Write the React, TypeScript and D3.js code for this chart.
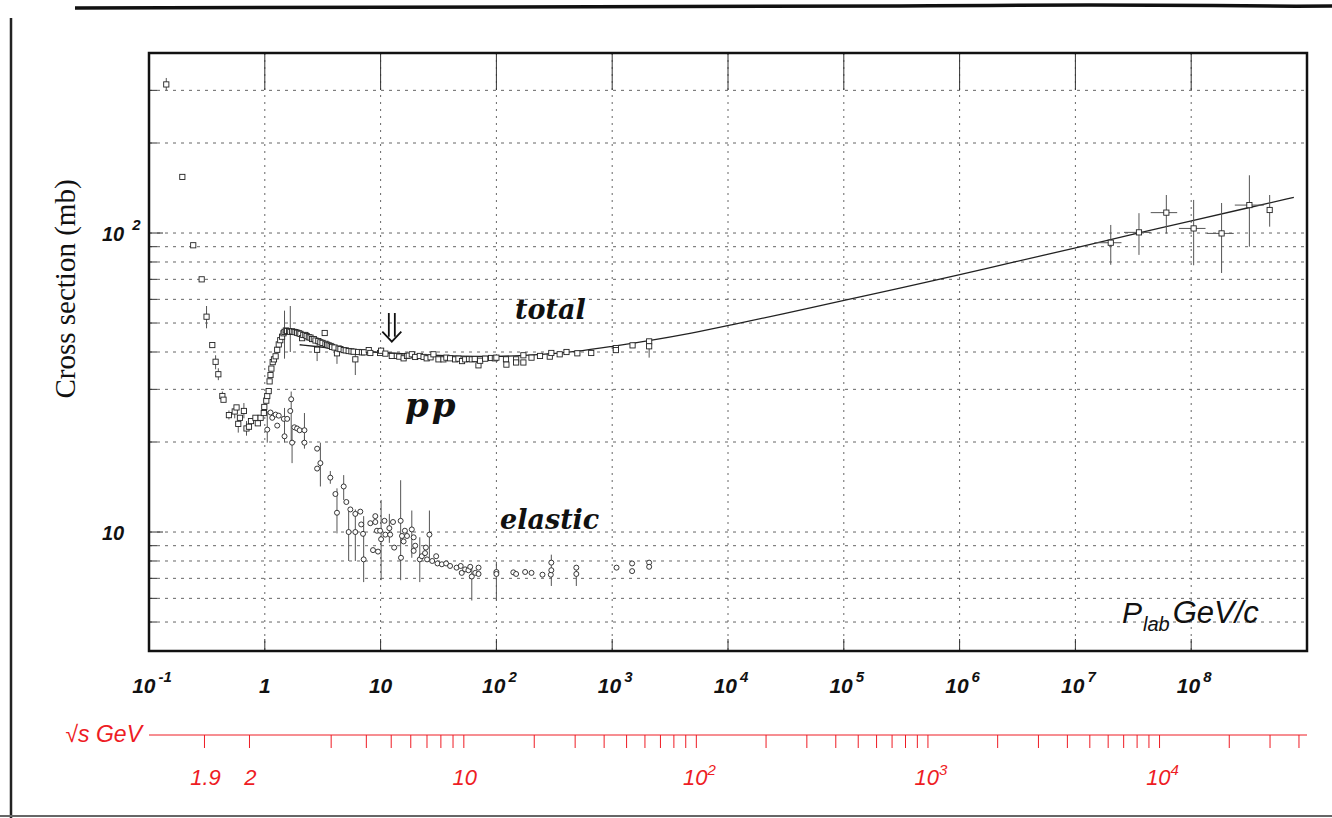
import React from 'react';
import * as d3 from 'd3';

// ---------------- data ----------------
const X_DOMAIN: [number, number] = [0.1, 1e9];
const Y_DOMAIN: [number, number] = [4, 400];

// total cross section (squares): [p_lab, sigma, sigmaLow, sigmaHigh]
const totalPoints: number[][] = [
  [0.141, 314, 300, 330], [0.194, 154], [0.241, 91], [0.285, 70], [0.314, 52.5, 48, 57],
  [0.352, 42.2], [0.376, 37.1, 35, 39], [0.397, 33.7, 32.2, 35.3], [0.43, 28.5, 27.5, 29.5],
  [0.44, 27.7], [0.49, 24.6, 23.8, 25.5], [0.55, 25.3, 24, 26.5], [0.57, 26.1],
  [0.59, 23.0, 21.5, 24.5], [0.61, 24.1], [0.66, 25.4, 24, 27], [0.695, 22.2, 21, 23.5],
  [0.73, 22.5], [0.76, 23.5], [0.83, 24.1], [0.87, 23.1], [0.92, 24.1], [0.98, 25.0],
  [0.99, 26.2], [1.03, 27.5], [1.05, 28.5], [1.08, 29.6], [1.10, 31.9], [1.12, 33.5],
  [1.14, 35.2], [1.17, 37.0], [1.2, 37.8], [1.24, 38.7], [1.28, 40.7], [1.32, 42.4],
  [1.36, 43.8], [1.41, 45.0], [1.45, 46.2], [1.48, 46.7, 38, 55], [1.52, 47.2], [1.56, 47.0],
  [1.62, 47.0], [1.66, 46.7, 40, 57], [1.72, 46.9], [1.78, 46.7], [1.84, 46.6], [1.90, 46.4],
  [1.97, 46.2], [2.03, 46.0], [2.10, 44.5], [2.15, 45.6], [2.24, 45.6], [2.3, 45.2],
  [2.40, 44.8], [2.48, 44.7], [2.56, 44.2], [2.65, 44.2], [2.74, 43.7], [2.83, 40.7, 37.3, 44.2],
  [2.9, 43.5], [3.02, 43.1], [3.15, 42.9], [3.29, 46.3], [3.34, 42.6], [3.45, 42.3],
  [3.56, 42.1], [3.7, 41.9], [3.81, 41.6], [4.0, 41.4], [4.2, 39.6, 36.5, 41], [4.34, 41.1],
  [4.5, 40.9], [4.80, 40.6], [5.0, 40.5], [5.3, 40.3], [5.6, 40.2], [5.85, 40.1],
  [6.05, 37.8, 33.5, 39.3], [6.4, 40.0], [6.9, 39.9], [7.2, 39.9], [7.9, 40.6], [8.15, 39.7],
  [9.9, 39.7], [10.1, 40.4], [11, 39.5], [12.5, 38.8], [13.8, 38.8], [14.5, 38.6],
  [15.8, 38.1], [16.9, 38.8], [17.5, 38.9], [18.6, 39.3], [19.9, 38.5], [21.8, 38.8],
  [23.5, 38.5], [25, 38.1], [27, 38.4], [28.6, 39.3], [31.6, 37.8], [34.9, 37.8], [37, 38.3],
  [39.8, 38.1], [44, 37.8], [47, 38.0], [50.5, 37.3], [53.8, 37.8], [58, 37.9], [61.3, 37.8],
  [65, 37.9], [70, 36.1], [72.4, 37.4], [80, 38.0], [90, 38.2], [97, 38.1], [100, 38.3],
  [121, 37.8], [122, 36.3], [148, 37.8], [148, 36.9], [171, 39.0], [171, 36.9], [201, 38.3],
  [238, 38.8], [289, 38.6], [298, 39.7], [352, 39.3], [403, 40.0], [500, 39.6], [659, 39.7],
  [1075, 41.2], [1075, 40.6], [1499, 42.1], [2085, 43.4], [2085, 41.8, 38.3, 43.5],
];

// elastic cross section (circles): [p_lab, sigma, sigmaLow, sigmaHigh]
const elasticPoints: number[][] = [
  [0.99, 25.3], [1.05, 22.0, 19.9, 25.3], [1.12, 25.1], [1.16, 24.1], [1.24, 24.7],
  [1.28, 22.7], [1.32, 24.5], [1.46, 23.9], [1.48, 20.9, 19.9, 26], [1.56, 23.9],
  [1.66, 25.4], [1.69, 27.8, 19.9, 29.5], [1.72, 19.9, 17, 22], [1.80, 22.4], [1.90, 22.2],
  [2.0, 21.9], [2.2, 21.9, 19.5, 25], [2.2, 19.9, 19, 21], [2.83, 19.0], [2.83, 16.3],
  [3.02, 17.0, 14.2, 19.9], [3.68, 15.2, 14.5, 16], [4.07, 13.4], [4.2, 11.6, 9.9, 14.0],
  [4.8, 14.2, 12.8, 15.5], [5.06, 12.6], [5.3, 10.0, 8.0, 11.8], [5.48, 11.9], [6.05, 11.5],
  [6.05, 10.0, 8.0, 11.9], [6.68, 11.7], [6.8, 10.6], [7.05, 9.86], [7.14, 8.1, 6.8, 11.3],
  [8.15, 10.7], [8.6, 8.7], [9.0, 11.3], [9.0, 10.8], [9.3, 10.1], [9.5, 8.6], [9.9, 10.1],
  [10.1, 9.46, 6.9, 12.8], [10.8, 10.9], [11.0, 9.8], [11.9, 10.3, 9.2, 11.5], [12.1, 9.8],
  [12.8, 10.8], [13.1, 8.87], [14.9, 10.9, 6.9, 14.9], [15, 8.2], [15.3, 9.7], [15.8, 9.3],
  [16.2, 10.1], [16.9, 9.7], [18.6, 10.2, 8.2, 11.8], [19.3, 9.6], [19.3, 8.65], [19.9, 9.0],
  [21.8, 8.1, 6.8, 9.6], [22.7, 8.3], [24.2, 8.5], [24.6, 8.87], [25.2, 8.1],
  [26.4, 9.8, 8.2, 11.8], [27.9, 8.0], [30.2, 8.3], [31.0, 7.85], [33.8, 7.8], [36.8, 7.85],
  [39.8, 7.7], [45.3, 7.6], [49.2, 7.7], [50.2, 7.3], [53.7, 7.5], [57.3, 7.45], [59.4, 7.65],
  [61.3, 7.1, 5.9, 7.6], [65.7, 7.3], [70.1, 7.6], [70.1, 7.24], [100, 7.35, 5.9, 7.95],
  [100, 7.24], [140, 7.33], [148, 7.24], [177, 7.35], [201, 7.3], [250, 7.2], [295, 7.2],
  [298, 7.45, 6.6, 8.4], [298, 7.9], [490, 7.24, 6.6, 7.7], [490, 7.6], [1090, 7.6],
  [1486, 7.85], [1486, 7.4], [2085, 7.9], [2085, 7.65],
];

// cosmic-ray total cross sections: [p, sigma, sigmaLow, sigmaHigh, pLow, pHigh]
const totalHighEnergy: number[][] = [
  [2.02e7, 92.8, 78.3, 106.4, 1.46e7, 2.5e7],
  [3.54e7, 100.5, 84.5, 116.5, 2.63e7, 4.47e7],
  [6.1e7, 117, 99.6, 134, 4.47e7, 7.57e7],
  [1.05e8, 103.6, 78, 129, 7.83e7, 1.33e8],
  [1.83e8, 99.7, 73.5, 126, 1.36e8, 2.33e8],
  [3.18e8, 124, 90, 156, 2.38e8, 4.24e8],
  [4.76e8, 119.4, 105, 134],
];

// fit curve through the total cross section
const fitP = [2, 3, 5, 10, 20, 50, 100, 200, 500, 1e3, 2e3, 5e3, 1e4, 3e4, 1e5, 3e5, 1e6, 3e6, 1e7, 3e7, 1e8, 3e8, 7.7e8];
const fitSigma = [42.3, 41.6, 40.7, 39.8, 39.2, 38.7, 38.6, 39.0, 40.1, 41.8, 43.5, 46.3, 49.0, 53.6, 59.6, 65.3, 72.5, 80.1, 89.2, 98.6, 109.7, 121.1, 131.6];

const xLabelValues = [0.1, 1, 10, 1e2, 1e3, 1e4, 1e5, 1e6, 1e7, 1e8];
const xLabelBase = ['10', '1', '10', '10', '10', '10', '10', '10', '10', '10'];
const xLabelExp = ['-1', '', '', '2', '3', '4', '5', '6', '7', '8'];

const yLabelValues = [10, 100];
const yLabelBase = ['10', '10'];
const yLabelExp = ['', '2'];

const xGridValues = [1, 10, 1e2, 1e3, 1e4, 1e5, 1e6, 1e7, 1e8];
const yGridValues = [5, 6, 7, 8, 9, 10, 20, 30, 40, 50, 60, 70, 80, 90, 100, 200, 300];

const sqrtsTicks = [1.9, 2, 3, 4, 5, 6, 7, 8, 9, 10, 20, 30, 40, 50, 60, 70, 80, 90, 100,
  200, 300, 400, 500, 600, 700, 800, 900, 1000, 2000, 3000, 4000, 5000, 6000, 7000, 8000, 9000,
  10000, 20000, 30000, 40000];
const sqrtsLabelValues = [1.9, 2, 10, 100, 1000, 10000];
const sqrtsLabelBase = ['1.9', '2', '10', '10', '10', '10'];
const sqrtsLabelExp = ['', '', '', '2', '3', '4'];

const arrowP = 12.5;
const arrowTop = 54;
const arrowTip = 43.3;

// ---------------- layout ----------------
const W = 1332, H = 818;
const L = 149, R = 1307, T = 53, B = 651;
const SANS = "'Liberation Sans', Arial, Helvetica, sans-serif";
const SERIF = "'Liberation Serif', 'Times New Roman', serif";
const MATH = "'DejaVu Serif', serif";
const RED = '#ee1c24';
const MP = 0.938272;

function pFromSqrtS(r: number) {
  const s = r * r;
  const E = (s - 2 * MP * MP) / (2 * MP);
  return Math.sqrt(E * E - MP * MP);
}

export default function App() {
  const x = d3.scaleLog().domain(X_DOMAIN).range([L, R]);
  const y = d3.scaleLog().domain(Y_DOMAIN).range([B, T]);
  const isDecade = (v: number) => Math.abs(Math.log10(v) - Math.round(Math.log10(v))) < 1e-6;
  const xTicks = x.ticks().filter(v => v > X_DOMAIN[0] * 1.0001 && v < X_DOMAIN[1] * 0.9999);
  const yTicks = y.ticks().filter(v => v > Y_DOMAIN[0] * 1.0001 && v < Y_DOMAIN[1] * 0.9999);

  const line = d3.line<number>()
    .x((_, i) => x(fitP[i]))
    .y((d) => y(d))
    .curve(d3.curveBasis);

  const ax = x(arrowP), aT = y(arrowTop), aB = y(arrowTip);
  const sqrtY = 735;

  return (
    <svg width={W} height={H} style={{ position: 'absolute', left: 0, top: 0, background: '#fff' }}>
      {/* scanned-page border */}
      <path d="M75,8 C300,5 600,9 900,6 S1200,7 1332,6" stroke="#111" strokeWidth={3.5} fill="none" />
      <line x1={11} y1={18} x2={11} y2={818} stroke="#222" strokeWidth={2.5} />
      <line x1={0} y1={816} x2={W} y2={816} stroke="#666" strokeWidth={2} />

      {/* grid */}
      {yGridValues.map((v, i) => (
        <line key={'gy' + i} x1={L} x2={R} y1={y(v)} y2={y(v)} stroke="#666" strokeWidth={1} strokeDasharray="3,5" />
      ))}
      {xGridValues.map((v, i) => (
        <line key={'gx' + i} x1={x(v)} x2={x(v)} y1={T} y2={B} stroke="#666" strokeWidth={1} strokeDasharray="2,5" />
      ))}

      {/* ticks */}
      {xTicks.map((v, i) => {
        const major = isDecade(v);
        return (
          <g key={'xt' + i}>
            <line x1={x(v)} x2={x(v)} y1={T} y2={T + (major ? 37 : 18)} stroke="#333" strokeWidth={1} />
            <line x1={x(v)} x2={x(v)} y1={B} y2={B - (major ? 12 : 6)} stroke="#333" strokeWidth={1} />
          </g>
        );
      })}
      {yTicks.map((v, i) => {
        const major = isDecade(v);
        return <line key={'yt' + i} x1={L} x2={L + (major ? 14 : 8)} y1={y(v)} y2={y(v)} stroke="#333" strokeWidth={1} />;
      })}

      {/* fit curve */}
      <path d={line(fitSigma) || ''} fill="none" stroke="#222" strokeWidth={1.3} />

      {/* error bars */}
      {totalPoints.filter(d => d.length >= 4).map((d, i) => (
        <line key={'te' + i} x1={x(d[0])} x2={x(d[0])} y1={y(d[2])} y2={y(d[3])} stroke="#555" strokeWidth={1} />
      ))}
      {elasticPoints.filter(d => d.length >= 4).map((d, i) => (
        <line key={'ee' + i} x1={x(d[0])} x2={x(d[0])} y1={y(d[2])} y2={y(d[3])} stroke="#555" strokeWidth={1} />
      ))}
      {totalHighEnergy.map((d, i) => (
        <g key={'he' + i}>
          <line x1={x(d[0])} x2={x(d[0])} y1={y(d[2])} y2={y(d[3])} stroke="#555" strokeWidth={1} />
          {d.length >= 6 && <line x1={x(d[4])} x2={x(d[5])} y1={y(d[1])} y2={y(d[1])} stroke="#555" strokeWidth={1} />}
        </g>
      ))}

      {/* markers */}
      {elasticPoints.map((d, i) => (
        <circle key={'ec' + i} cx={x(d[0])} cy={y(d[1])} r={2.5} fill="#fff" stroke="#222" strokeWidth={0.9} />
      ))}
      {totalPoints.map((d, i) => (
        <rect key={'ts' + i} x={x(d[0]) - 2.6} y={y(d[1]) - 2.6} width={5.2} height={5.2} fill="#fff" stroke="#222" strokeWidth={0.9} />
      ))}
      {totalHighEnergy.map((d, i) => (
        <rect key={'hs' + i} x={x(d[0]) - 2.6} y={y(d[1]) - 2.6} width={5.2} height={5.2} fill="#fff" stroke="#222" strokeWidth={0.9} />
      ))}

      {/* arrow */}
      <g stroke="#111" strokeWidth={1.8} fill="none">
        <line x1={ax - 3} x2={ax - 3} y1={aT} y2={aB - 5} />
        <line x1={ax + 3} x2={ax + 3} y1={aT} y2={aB - 5} />
        <polyline points={`${ax - 9.5},${aB - 10} ${ax},${aB} ${ax + 9.5},${aB - 10}`} />
      </g>

      {/* frame */}
      <rect x={L} y={T} width={R - L} height={B - T} fill="none" stroke="#111" strokeWidth={2.5} />

      {/* annotations */}
      <text x={515} y={319} fontFamily={MATH} fontWeight="bold" fontStyle="italic" fontSize={27} fill="#111">total</text>
      <text x={405} y={417} fontFamily={MATH} fontWeight="bold" fontStyle="italic" fontSize={34} letterSpacing={3} fill="#111">pp</text>
      <text x={500} y={529} fontFamily={MATH} fontWeight="bold" fontStyle="italic" fontSize={27} fill="#111">elastic</text>

      <text x={1122} y={623} fontFamily={SANS} fontStyle="italic" fontSize={30} fill="#111">
        P<tspan fontSize={20} dy={8} dx={1}>lab</tspan><tspan dy={-8} dx={3} fontSize={31}>GeV/c</tspan>
      </text>

      {/* y axis labels */}
      {yLabelValues.map((v, i) => (
        <text key={'yl' + i} x={102} y={y(v) + 8} fontFamily={SANS} fontWeight="bold" fontStyle="italic" fontSize={20} fill="#111">
          {yLabelBase[i]}
          {yLabelExp[i] && <tspan dx={8} dy={-11} fontSize={15}>{yLabelExp[i]}</tspan>}
        </text>
      ))}
      <text transform={`translate(75,289) rotate(-90)`} textAnchor="middle" fontFamily={SERIF} fontSize={29} fill="#111">Cross section (mb)</text>

      {/* x axis labels */}
      {xLabelValues.map((v, i) => (
        <text key={'xl' + i} x={x(v) + (xLabelExp[i] ? 3 : 0)} y={693} textAnchor="middle" fontFamily={SANS} fontWeight="bold" fontStyle="italic" fontSize={21} fill="#111">
          {xLabelBase[i]}
          {xLabelExp[i] && <tspan dx={3} dy={-11} fontSize={15}>{xLabelExp[i]}</tspan>}
        </text>
      ))}

      {/* sqrt(s) axis */}
      <text x={142} y={742} textAnchor="end" fontFamily={SANS} fontStyle="italic" fontSize={23} fill={RED}>√s GeV</text>
      <line x1={L} x2={R} y1={sqrtY} y2={sqrtY} stroke={RED} strokeWidth={1} />
      {sqrtsTicks.map((v, i) => (
        <line key={'st' + i} x1={x(pFromSqrtS(v))} x2={x(pFromSqrtS(v))} y1={sqrtY} y2={sqrtY + 13} stroke={RED} strokeWidth={1} />
      ))}
      {sqrtsLabelValues.map((v, i) => (
        <text key={'sl' + i} x={x(pFromSqrtS(v)) + (sqrtsLabelExp[i] ? 3 : 1)} y={785} textAnchor="middle" fontFamily={SANS} fontStyle="italic" fontSize={22} fill={RED}>
          {sqrtsLabelBase[i]}
          {sqrtsLabelExp[i] && <tspan dx={0} dy={-10} fontSize={15}>{sqrtsLabelExp[i]}</tspan>}
        </text>
      ))}
    </svg>
  );
}
